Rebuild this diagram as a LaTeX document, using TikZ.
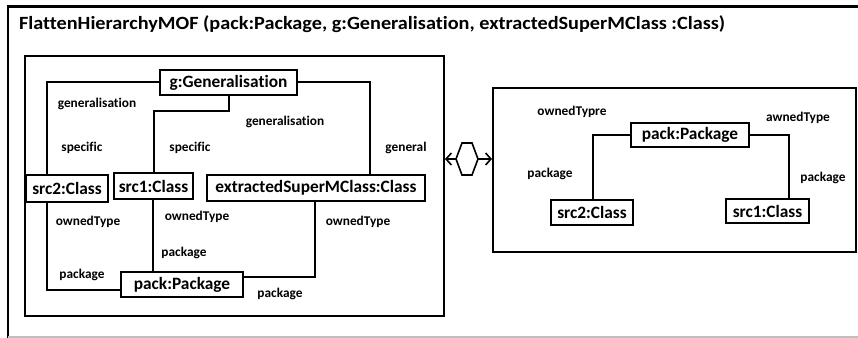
\documentclass[tikz,border=0pt]{standalone}
\usepackage{fontspec}
\setmainfont{Carlito}[Ligatures=NoCommon]
\usetikzlibrary{arrows.meta}
\begin{document}
\begin{tikzpicture}[x=0.75pt,y=-0.75pt,
  every path/.style={line width=1.5pt},
  cls/.style={draw, line width=1.5pt, inner sep=0pt, font=\bfseries\fontsize{13}{15}\selectfont, fill=white},
  lbl/.style={inner sep=0pt, font=\bfseries\fontsize{10}{12}\selectfont},
  frm/.style={draw, line width=1.5pt, inner sep=0pt},
  arr/.style={-{Straight Barb[length=4pt,width=9pt,line width=1.2pt]}, line width=1.2pt}]
\useasboundingbox (0,0) rectangle (858,338);
% outer frame
\draw[line width=2pt] (8,338) -- (8,6.5) -- (858,6.5);
\draw[line width=1.2pt, black!25] (8,337) -- (858,337);
\node[anchor=base west, inner sep=0pt, font=\bfseries\fontsize{14}{16}\selectfont] (title) at (18,30)
  {\scalebox{1.085}[1]{FlattenHierarchyMOF (pack:Package, g:Generalisation, extractedSuperMClass :Class)}};
% left box
\node[frm, minimum width=314.25pt, minimum height=195pt] (lbox) at (234.5,186) {};
% right box
\node[frm, minimum width=272.25pt, minimum height=123pt] (rbox) at (674.5,170) {};
% connector corners
\coordinate (k1) at (47,82.5);
\coordinate (k2) at (370,82.5);
\coordinate (k4) at (154,111);
\coordinate (k5) at (47,290);
\coordinate (k6) at (153,0);
\coordinate (k7) at (315,277);
% nodes
\node[cls, minimum width=102.75pt, minimum height=18.75pt] (g) at (228.5,82.5) {g:Generalisation};
\node[cls, minimum width=61.5pt, minimum height=20.25pt] (src2) at (67,188.5) {src2:Class};
\node[cls, minimum width=59.25pt, minimum height=19.5pt] (src1) at (153.5,186) {src1:Class};
\node[cls, minimum width=163.5pt, minimum height=19.5pt] (ext) at (316,188) {extractedSuperMClass:Class};
\node[cls, minimum width=91.5pt, minimum height=18.75pt] (packL) at (182,284.5) {pack:Package};
\draw (g.west) -- (k1) -- (k1 |- src2.north);
\draw (g.east) -- (k2) -- (k2 |- ext.north);
\draw (g.south) |- (k4) -- (k4 |- src1.north);
\draw (k5 |- src2.south) -- (k5) -- (k5 -| packL.west);
\draw (k6 |- src1.south) -- (k6 |- packL.north);
\draw (k7 |- ext.south) -- (k7) -- (k7 -| packL.east);
% left labels
\node[lbl] (l1) at (97,104) {generalisation};
\node[lbl] (l2) at (82,148) {specific};
\node[lbl] (l3) at (190,148) {specific};
\node[lbl] (l4) at (285,122) {generalisation};
\node[lbl] (l5) at (406,148) {general};
\node[lbl] (l6) at (88,222) {ownedType};
\node[lbl] (l7) at (197,217) {ownedType};
\node[lbl] (l8) at (358,222) {ownedType};
\node[lbl] (l9) at (184,253) {package};
\node[lbl] (l10) at (82,275) {package};
\node[lbl] (l11) at (280,294) {package};
% right nodes
\coordinate (r1) at (593,135);
\coordinate (r2) at (789,135);
\node[cls, minimum width=88.5pt, minimum height=18pt] (packR) at (690,135) {pack:Package};
\node[cls, minimum width=61.5pt, minimum height=18.75pt] (src2R) at (592,212.5) {src2:Class};
\node[cls, minimum width=62.25pt, minimum height=18pt] (src1R) at (767.5,211) {src1:Class};
\draw (packR.west) -- (r1) -- (r1 |- src2R.north);
\draw (packR.east) -- (r2) -- (r2 |- src1R.north);
\node[lbl] (m1) at (572,112) {ownedTypre};
\node[lbl] (m2) at (798,118) {awnedType};
\node[lbl] (m3) at (550,174) {package};
\node[lbl] (m4) at (823,178) {package};
% hexagon and arrows
\coordinate (hl) at (456,159);
\coordinate (hr) at (478,159);
\draw[line width=1.2pt] (hl) -- (462,143) -- (472,143) -- (hr) -- (472,175) -- (462,175) -- cycle;
\draw[arr] (hl) -- (hl -| lbox.east);
\draw[arr] (hr) -- (hr -| rbox.west);
\end{tikzpicture}
\end{document}
